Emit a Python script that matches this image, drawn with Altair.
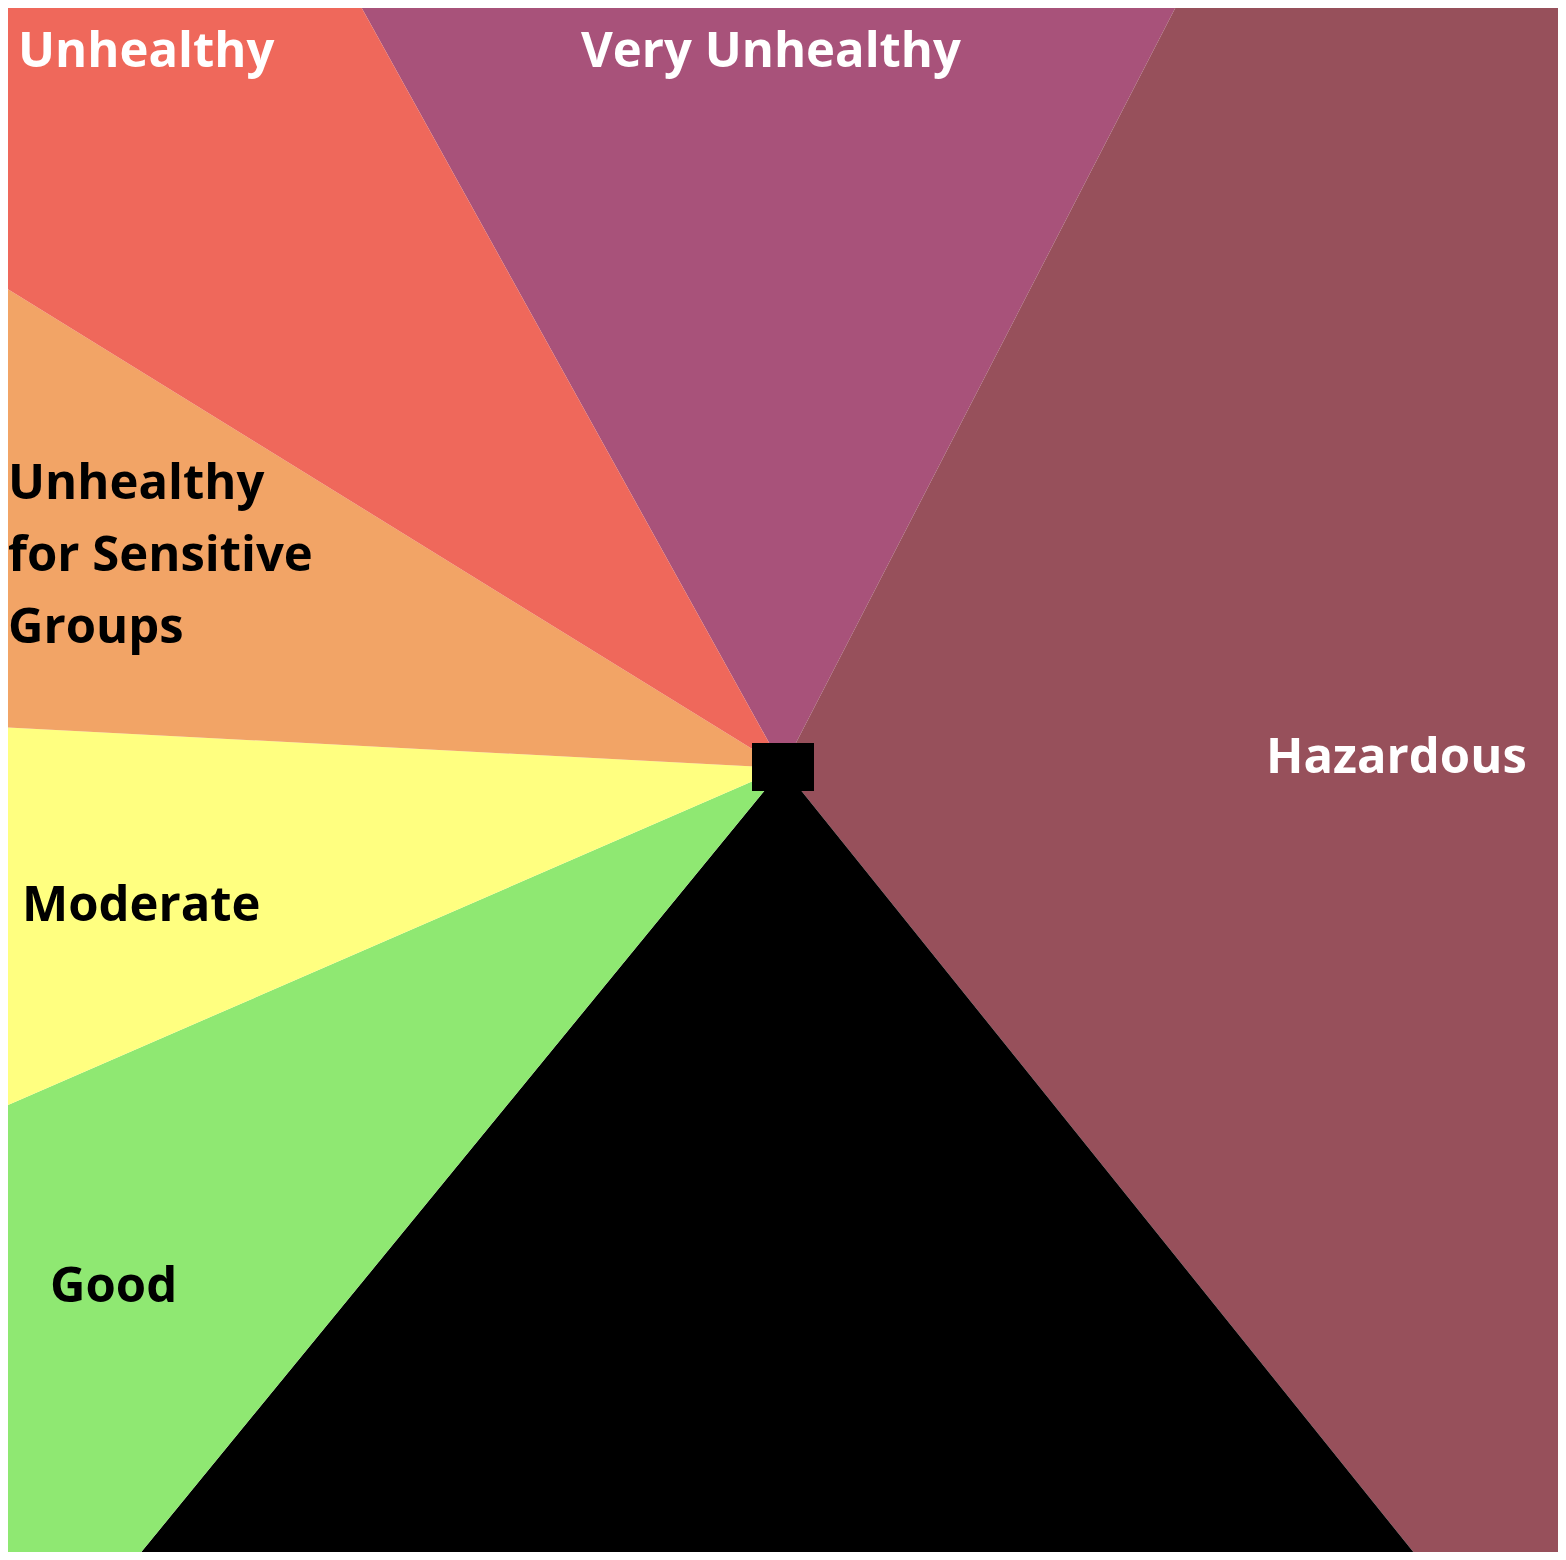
import math
import altair as alt
import pandas as pd

categories = ["Very Unhealthy", "Hazardous", "(blank)", "Good", "Moderate",
              "Unhealthy for Sensitive Groups", "Unhealthy"]
spans_deg = [56.3, 113.9, 78.1, 27.2, 26.5, 28.7, 29.3]
colors = ["#A8527A", "#97505B", "#000000", "#8FE872", "#FFFF80", "#F2A466", "#EF685B"]
start_deg = 331.0

df = pd.DataFrame({"cat": categories, "span": spans_deg, "order": list(range(len(categories)))})

W, H = 1550, 1544
cx, cy = 775, 760

s = math.radians(start_deg)
arcs = alt.Chart(df).mark_arc(outerRadius=1400, clip=True, stroke=None).encode(
    theta=alt.Theta("span:Q", stack=True, scale=alt.Scale(range=[s, s + 2 * math.pi])),
    color=alt.Color("cat:N", scale=alt.Scale(domain=categories, range=colors), legend=None),
    order=alt.Order("order:Q"),
    x=alt.value(cx), y=alt.value(cy),
)

label_text = ["Unhealthy", "Very Unhealthy", "Hazardous", "Unhealthy\nfor Sensitive\nGroups",
              "Moderate", "Good"]
label_x = [10, 573, 1258, 0, 14, 42]
label_y = [44, 44, 750, 476, 898, 1279]
label_color = ["white", "white", "white", "black", "black", "black"]
ldf = pd.DataFrame({"t": label_text, "x": label_x, "y": label_y, "c": label_color})

labels = alt.Chart(ldf).mark_text(
    font="Open Sans", fontWeight="bold", fontSize=49, align="left", baseline="middle",
    lineBreak="\n", lineHeight=72,
).encode(
    x=alt.X("x:Q", scale=None), y=alt.Y("y:Q", scale=None),
    text="t:N", color=alt.Color("c:N", scale=None),
)

sq = alt.Chart(pd.DataFrame({"a": [0]})).mark_rect(color="black").encode(
    x=alt.value(744), x2=alt.value(806), y=alt.value(735), y2=alt.value(783))

chart = alt.layer(arcs, sq, labels).properties(
    width=W, height=H, padding=0, autosize="none"
).configure_view(strokeWidth=0)

chart.save("out.html", embed_options={"renderer": "svg", "actions": False})
